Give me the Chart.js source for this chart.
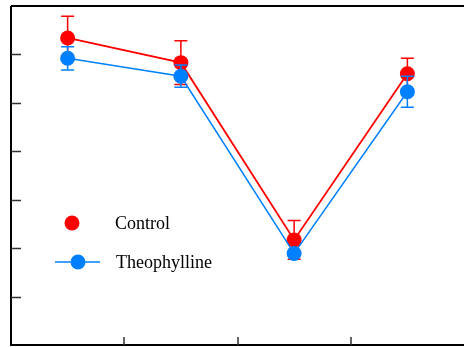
<!DOCTYPE html>
<html>
<head>
<meta charset="utf-8">
<script src="https://cdn.jsdelivr.net/npm/chart.js@4/dist/chart.umd.min.js"></script>
<style>
  html, body { margin: 0; padding: 0; background: #fff; overflow: hidden; }
  canvas { display: block; }
</style>
</head>
<body>
<canvas id="MainChart" width="464" height="347"></canvas>
<script>
const categories = ["1", "2", "3", "4"];
const controlValues = [6.34, 5.83, 2.17, 5.60];
const controlErrors = [0.45, 0.45, 0.40, 0.32];
const theoValues = [5.92, 5.55, 1.89, 5.23];
const theoErrors = [0.24, 0.23, 0.05, 0.32];
const yTicks = [1, 2, 3, 4, 5, 6];

const RED = "rgb(255, 0, 0)";
const BLUE = "rgb(0, 128, 255)";

// error bars drawn just before each dataset, so the points sit on top
const errorBars = {
    id: "errorBars",
    beforeDatasetDraw(chart, args) {
        const ds = chart.data.datasets[args.index];
        if (!ds.errors) return;
        const ctx = chart.ctx;
        const y = chart.scales.y;
        ctx.save();
        ctx.strokeStyle = ds.borderColor;
        ctx.lineWidth = 1.5;
        args.meta.data.forEach((pt, i) => {
            const v = ds.data[i];
            const e = ds.errors[i];
            const top = y.getPixelForValue(v + e);
            const bot = y.getPixelForValue(v - e);
            ctx.beginPath();
            ctx.moveTo(pt.x, top);
            ctx.lineTo(pt.x, bot);
            ctx.moveTo(pt.x - 6.5, top);
            ctx.lineTo(pt.x + 6.5, top);
            ctx.moveTo(pt.x - 6.5, bot);
            ctx.lineTo(pt.x + 6.5, bot);
            ctx.stroke();
        });
        ctx.restore();
    },
};

// frame with inward ticks, and the legend inside the plot
const frame = {
    id: "frame",
    afterDraw(chart) {
        const ctx = chart.ctx;
        const a = chart.chartArea;
        const x = chart.scales.x;
        const y = chart.scales.y;
        ctx.save();
        ctx.strokeStyle = "#000";
        ctx.lineWidth = 2;
        ctx.beginPath();
        ctx.moveTo(a.left, a.top);
        ctx.lineTo(a.left, a.bottom);
        ctx.lineTo(a.right, a.bottom);
        ctx.moveTo(a.left, a.top);
        ctx.lineTo(a.right, a.top);
        ctx.stroke();

        ctx.strokeStyle = "#333";
        ctx.lineWidth = 1.5;
        ctx.beginPath();
        yTicks.forEach((t) => {
            const py = Math.round(y.getPixelForValue(t)) + 0.5;
            ctx.moveTo(a.left, py);
            ctx.lineTo(a.left + 10, py);
        });
        for (let i = 0; i < categories.length - 1; i++) {
            const px = Math.round(x.getPixelForValue(i + 0.5));
            ctx.moveTo(px, a.bottom);
            ctx.lineTo(px, a.bottom - 8);
        }
        ctx.stroke();

        // legend
        ctx.font = '18px "Liberation Serif"';
        ctx.textBaseline = "middle";
        ctx.fillStyle = RED;
        ctx.beginPath();
        ctx.arc(72, 223, 7.5, 0, Math.PI * 2);
        ctx.fill();
        ctx.strokeStyle = BLUE;
        ctx.lineWidth = 1.5;
        ctx.beginPath();
        ctx.moveTo(55, 262);
        ctx.lineTo(100, 262);
        ctx.stroke();
        ctx.fillStyle = BLUE;
        ctx.beginPath();
        ctx.arc(78, 262, 7.5, 0, Math.PI * 2);
        ctx.fill();
        ctx.fillStyle = "#000";
        ctx.fillText(chart.data.datasets[0].label, 115, 224);
        ctx.fillText(chart.data.datasets[1].label, 116, 263);
        ctx.restore();
    },
};

function MainChart() {
    const ctx = document.getElementById("MainChart");

    new Chart(ctx, {
        type: "line",
        data: {
            labels: categories,
            datasets: [
                {
                    label: "Control",
                    data: controlValues,
                    errors: controlErrors,
                    borderColor: RED,
                    backgroundColor: RED,
                    borderWidth: 1.8,
                    pointRadius: 7.5,
                    pointBorderWidth: 0,
                    fill: false,
                    tension: 0,
                    order: 2,
                },
                {
                    label: "Theophylline",
                    data: theoValues,
                    errors: theoErrors,
                    borderColor: BLUE,
                    backgroundColor: BLUE,
                    borderWidth: 1.5,
                    pointRadius: 7.5,
                    pointBorderWidth: 0,
                    fill: false,
                    tension: 0,
                    order: 1,
                },
            ],
        },
        options: {
            responsive: false,
            animation: false,
            layout: {
                autoPadding: false,
                padding: { left: 11, top: 6, right: 0, bottom: 2 },
            },
            plugins: {
                legend: { display: false },
                tooltip: { enabled: false },
            },
            scales: {
                x: { display: false, offset: true },
                y: { display: false, min: 0, max: 7 },
            },
        },
        plugins: [errorBars, frame],
    });
}

MainChart();
</script>
</body>
</html>
